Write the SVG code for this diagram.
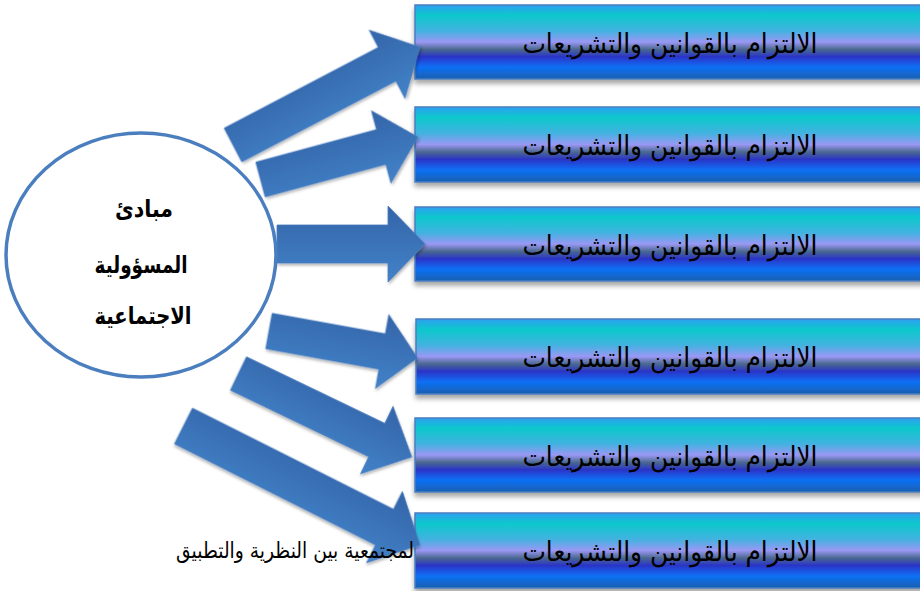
<svg xmlns="http://www.w3.org/2000/svg" width="920" height="591" viewBox="0 0 920 591">
<defs>
<linearGradient id="boxGrad" x1="0" y1="0" x2="0" y2="1">
<stop offset="0" stop-color="#2e9ff0"/>
<stop offset="0.14" stop-color="#0cc8cc"/>
<stop offset="0.35" stop-color="#42b2e0"/>
<stop offset="0.5" stop-color="#9a98f4"/>
<stop offset="0.6" stop-color="#4a6890"/>
<stop offset="0.7" stop-color="#2a34c8"/>
<stop offset="0.84" stop-color="#0f70f5"/>
<stop offset="1" stop-color="#1560b0"/>
</linearGradient>
<linearGradient id="arrowGrad" x1="0" y1="0" x2="0" y2="1">
<stop offset="0" stop-color="#3464a8"/>
<stop offset="1" stop-color="#4282c8"/>
</linearGradient>
<filter id="shadow" x="-10%" y="-20%" width="120%" height="160%">
<feDropShadow dx="0" dy="4" stdDeviation="2.5" flood-color="#000" flood-opacity="0.35"/>
</filter>
<filter id="ashadow" x="-10%" y="-20%" width="120%" height="160%">
<feDropShadow dx="1" dy="2" stdDeviation="1.5" flood-color="#000" flood-opacity="0.3"/>
</filter>
<clipPath id="footClip"><rect x="0" y="500" width="415" height="91"/></clipPath>
<style>
.box{fill:url(#boxGrad);stroke:#4a7ec0;stroke-width:1.5;filter:url(#shadow)}
.btxt{font-family:"DejaVu Sans",sans-serif;font-size:27px;fill:#000;text-anchor:middle}
.arrow{fill:url(#arrowGrad);stroke:#4a7ec0;stroke-width:0.8;filter:url(#ashadow)}
.ctxt{font-family:"DejaVu Sans",sans-serif;font-size:24px;font-weight:bold;fill:#000;text-anchor:middle}
.foot{font-family:"DejaVu Sans",sans-serif;font-size:22px;fill:#000;text-anchor:end}
</style>
</defs>
<rect width="920" height="591" fill="#fff"/>

<g id="box1"><rect class="box" x="415" y="5" width="512" height="74"/><text class="btxt" x="670" y="53" textLength="295" lengthAdjust="spacingAndGlyphs">الالتزام بالقوانين والتشريعات</text></g>
<g id="box2"><rect class="box" x="415" y="107" width="512" height="75"/><text class="btxt" x="670" y="155" textLength="295" lengthAdjust="spacingAndGlyphs">الالتزام بالقوانين والتشريعات</text></g>
<g id="box3"><rect class="box" x="415" y="207" width="512" height="74"/><text class="btxt" x="670" y="255" textLength="295" lengthAdjust="spacingAndGlyphs">الالتزام بالقوانين والتشريعات</text></g>
<g id="box4"><rect class="box" x="416" y="319" width="512" height="75"/><text class="btxt" x="670" y="367" textLength="295" lengthAdjust="spacingAndGlyphs">الالتزام بالقوانين والتشريعات</text></g>
<g id="box5"><rect class="box" x="415" y="418" width="512" height="74"/><text class="btxt" x="670" y="466" textLength="295" lengthAdjust="spacingAndGlyphs">الالتزام بالقوانين والتشريعات</text></g>
<g id="box6"><rect class="box" x="415" y="513" width="512" height="75"/><text class="btxt" x="670" y="561" textLength="295" lengthAdjust="spacingAndGlyphs">الالتزام بالقوانين والتشريعات</text></g>

<g id="connectors">
<path class="arrow" transform="translate(233,145) rotate(-27.66)" d="M0,-19 L174,-19 L174,-38.5 L211,0 L174,38.5 L174,19 L0,19 Z"/>
<path class="arrow" transform="translate(260.5,179.5) rotate(-15.1)" d="M0,-18 L125,-18 L125,-37.5 L163,0 L125,37.5 L125,18 L0,18 Z"/>
<path class="arrow" transform="translate(277,244) rotate(0)" d="M0,-19 L111,-19 L111,-38 L148,0 L111,38 L111,19 L0,19 Z"/>
<path class="arrow" transform="translate(269,331) rotate(10.27)" d="M0,-18 L115,-18 L115,-37.5 L151,0 L115,37.5 L115,18 L0,18 Z"/>
<path class="arrow" transform="translate(238.5,373.5) rotate(25.7)" d="M0,-18.5 L153.5,-18.5 L153.5,-37.5 L192.5,0 L153.5,37.5 L153.5,18.5 L0,18.5 Z"/>
<path class="arrow" transform="translate(183.5,426) rotate(26.7)" d="M0,-20 L225,-20 L225,-40 L264.7,0 L225,40 L225,20 L0,20 Z"/>
</g>

<g id="footer" clip-path="url(#footClip)">
<text class="foot" x="414" y="558" textLength="238" lengthAdjust="spacingAndGlyphs">لمجتمعية بين النظرية والتطبيق</text>
</g>

<g id="center">
<ellipse cx="141" cy="255" rx="135" ry="122" fill="#fff" stroke="#4a7ebe" stroke-width="3.5"/>
<text class="ctxt" x="144" y="217" textLength="58" lengthAdjust="spacingAndGlyphs">مبادئ</text>
<text class="ctxt" x="141" y="273" textLength="93" lengthAdjust="spacingAndGlyphs">المسؤولية</text>
<text class="ctxt" x="143" y="324" textLength="97" lengthAdjust="spacingAndGlyphs">الاجتماعية</text>
</g>
</svg>
